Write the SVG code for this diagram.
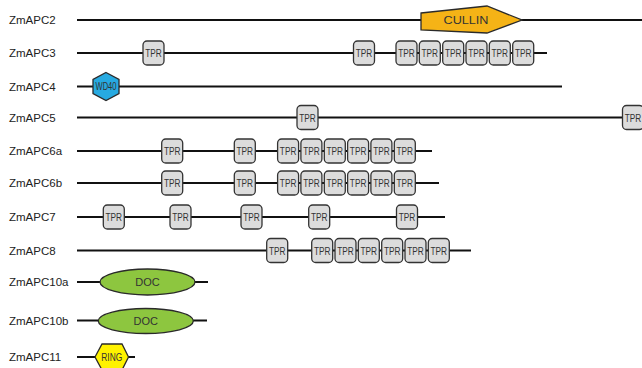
<svg xmlns="http://www.w3.org/2000/svg" xmlns:xlink="http://www.w3.org/1999/xlink" width="642" height="368" viewBox="0 0 642 368">
<style>
.lbl{font-family:"Liberation Sans",Arial,sans-serif;font-size:11.5px;fill:#222}
.bb{stroke:#111;stroke-width:2;fill:none}
.dt{font-family:"Liberation Sans",Arial,sans-serif;font-size:11px;fill:#333;text-anchor:middle}
.sh{stroke:#2a2a2a;stroke-width:1.3}
</style>
<defs>
<g id="tpr">
<rect x="-10.5" y="-12" width="21" height="24" rx="4" fill="#dcdcdc" stroke="#333" stroke-width="1.3"/>
<text class="dt" y="4" textLength="16.5" lengthAdjust="spacingAndGlyphs">TPR</text>
</g>
</defs>
<g id="connectors">
<line class="bb" x1="77" y1="20" x2="642" y2="20"/>
<line class="bb" x1="77" y1="53" x2="547" y2="53"/>
<line class="bb" x1="77" y1="86.5" x2="562" y2="86.5"/>
<line class="bb" x1="77" y1="117.5" x2="630" y2="117.5"/>
<line class="bb" x1="77" y1="151" x2="432" y2="151"/>
<line class="bb" x1="77" y1="183" x2="439" y2="183"/>
<line class="bb" x1="77" y1="217" x2="445" y2="217"/>
<line class="bb" x1="77" y1="250.5" x2="471" y2="250.5"/>
<line class="bb" x1="77" y1="282" x2="208" y2="282"/>
<line class="bb" x1="77" y1="320.5" x2="207" y2="320.5"/>
<line class="bb" x1="77" y1="357" x2="135" y2="357"/>
</g>
<g id="ZmAPC2">
<text class="lbl" x="9" y="24">ZmAPC2</text>
<polygon class="sh" points="421,13 487,6 522,20 487,33 421,30" fill="#f5b316"/>
<text class="dt" x="466" y="24" textLength="45" lengthAdjust="spacingAndGlyphs">CULLIN</text>
</g>
<g id="ZmAPC3">
<text class="lbl" x="9" y="57">ZmAPC3</text>
<use xlink:href="#tpr" x="153.5" y="53"/>
<use xlink:href="#tpr" x="364" y="53"/>
<use xlink:href="#tpr" x="406.5" y="53"/>
<use xlink:href="#tpr" x="429.8" y="53"/>
<use xlink:href="#tpr" x="453.2" y="53"/>
<use xlink:href="#tpr" x="476.5" y="53"/>
<use xlink:href="#tpr" x="499.8" y="53"/>
<use xlink:href="#tpr" x="523.2" y="53"/>
</g>
<g id="ZmAPC4">
<text class="lbl" x="9" y="90.5">ZmAPC4</text>
<polygon class="sh" points="106,72.5 119,79.5 119,93.5 106,100.5 93,93.5 93,79.5" fill="#27aae1"/>
<text class="dt" x="106" y="90" font-size="10" textLength="21" lengthAdjust="spacingAndGlyphs">WD40</text>
</g>
<g id="ZmAPC5">
<text class="lbl" x="9" y="121.5">ZmAPC5</text>
<use xlink:href="#tpr" x="307.5" y="117.5"/>
<use xlink:href="#tpr" x="633" y="117.5"/>
</g>
<g id="ZmAPC6a">
<text class="lbl" x="9" y="155">ZmAPC6a</text>
<use xlink:href="#tpr" x="172.2" y="151"/>
<use xlink:href="#tpr" x="244.8" y="151"/>
<use xlink:href="#tpr" x="288.1" y="151"/>
<use xlink:href="#tpr" x="311.4" y="151"/>
<use xlink:href="#tpr" x="334.8" y="151"/>
<use xlink:href="#tpr" x="358.1" y="151"/>
<use xlink:href="#tpr" x="381.4" y="151"/>
<use xlink:href="#tpr" x="404.8" y="151"/>
</g>
<g id="ZmAPC6b">
<text class="lbl" x="9" y="187">ZmAPC6b</text>
<use xlink:href="#tpr" x="172.2" y="183"/>
<use xlink:href="#tpr" x="244.8" y="183"/>
<use xlink:href="#tpr" x="288.1" y="183"/>
<use xlink:href="#tpr" x="311.4" y="183"/>
<use xlink:href="#tpr" x="334.8" y="183"/>
<use xlink:href="#tpr" x="358.1" y="183"/>
<use xlink:href="#tpr" x="381.4" y="183"/>
<use xlink:href="#tpr" x="404.8" y="183"/>
</g>
<g id="ZmAPC7">
<text class="lbl" x="9" y="221">ZmAPC7</text>
<use xlink:href="#tpr" x="113.8" y="217"/>
<use xlink:href="#tpr" x="180.5" y="217"/>
<use xlink:href="#tpr" x="251.5" y="217"/>
<use xlink:href="#tpr" x="319.2" y="217"/>
<use xlink:href="#tpr" x="407" y="217"/>
</g>
<g id="ZmAPC8">
<text class="lbl" x="9" y="254.5">ZmAPC8</text>
<use xlink:href="#tpr" x="277.2" y="250.5"/>
<use xlink:href="#tpr" x="322.2" y="250.5"/>
<use xlink:href="#tpr" x="345.5" y="250.5"/>
<use xlink:href="#tpr" x="368.8" y="250.5"/>
<use xlink:href="#tpr" x="392.2" y="250.5"/>
<use xlink:href="#tpr" x="415.5" y="250.5"/>
<use xlink:href="#tpr" x="438.8" y="250.5"/>
</g>
<g id="ZmAPC10a">
<text class="lbl" x="9" y="286">ZmAPC10a</text>
<ellipse class="sh" cx="147.5" cy="282" rx="47.5" ry="13" fill="#8dc63f"/>
<text class="dt" x="147.5" y="286">DOC</text>
</g>
<g id="ZmAPC10b">
<text class="lbl" x="9" y="324.5">ZmAPC10b</text>
<ellipse class="sh" cx="145.8" cy="321" rx="47.5" ry="12.5" fill="#8dc63f"/>
<text class="dt" x="145.8" y="325">DOC</text>
</g>
<g id="ZmAPC11">
<text class="lbl" x="9" y="361">ZmAPC11</text>
<polygon class="sh" points="95,357 102,344 122,344 128.5,357 122,370 102,370" fill="#fff200"/>
<text class="dt" x="111.8" y="361" textLength="21" lengthAdjust="spacingAndGlyphs">RING</text>
</g>
</svg>
